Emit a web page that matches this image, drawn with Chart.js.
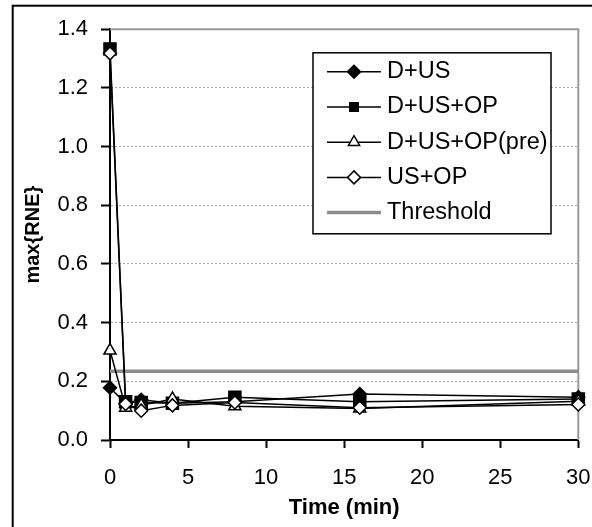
<!DOCTYPE html>
<html>
<head>
<meta charset="utf-8">
<style>
html,body{margin:0;padding:0;background:#fff;}
canvas{display:block;}
</style>
<script src="https://cdn.jsdelivr.net/npm/chart.js@4.4.1/dist/chart.umd.min.js"></script>
</head>
<body>
<canvas id="c" width="592" height="527"></canvas>
<script>
// ---- data ----
const times = [0, 1, 2, 4, 8, 16, 30];
const seriesNames = ['D+US', 'D+US+OP', 'D+US+OP(pre)', 'US+OP'];
const dUS      = [0.178, 0.125, 0.137, 0.125, 0.130, 0.157, 0.146];
const dUSOP    = [1.333, 0.130, 0.128, 0.125, 0.146, 0.130, 0.140];
const dUSOPpre = [0.305, 0.110, 0.118, 0.140, 0.115, 0.107, 0.132];
const usOP     = [1.318, 0.123, 0.100, 0.118, 0.128, 0.110, 0.121];
const thresholdLabel = 'Threshold';
const thresholdValue = 0.234;
const xTickValues = [0, 5, 10, 15, 20, 25, 30];
const yTickValues = [0.0, 0.2, 0.4, 0.6, 0.8, 1.0, 1.2, 1.4];
const xTitle = 'Time (min)';
const yTitle = 'max{RNE}';

// ---- styling ----
const FONT = '"Liberation Sans", Arial, Helvetica, sans-serif';
Chart.defaults.font.family = FONT;
Chart.defaults.color = '#000';

const toXY = arr => arr.map((v, i) => ({x: times[i], y: v}));

const styles = [
  {pointStyle: 'rectRot',  radius: 6.5, fill: '#000', order: 3, legendRadius: 6.5},
  {pointStyle: 'rect',     radius: 8.5, fill: '#000', order: 2, legendRadius: 6},
  {pointStyle: 'triangle', radius: 7,   fill: '#fff', order: 1, legendRadius: 6.5},
  {pointStyle: 'rectRot',  radius: 6.5, fill: '#fff', order: 0, legendRadius: 6.5}
];
const seriesData = [dUS, dUSOP, dUSOPpre, usOP];

const datasets = seriesData.map((arr, i) => ({
  label: seriesNames[i],
  data: toXY(arr),
  borderColor: '#000',
  borderWidth: 1.5,
  backgroundColor: styles[i].fill,
  pointStyle: styles[i].pointStyle,
  pointRadius: styles[i].radius,
  pointBackgroundColor: styles[i].fill,
  pointBorderColor: '#000',
  pointBorderWidth: 1.5,
  tension: 0,
  clip: false,
  order: styles[i].order
}));
datasets.push({
  label: thresholdLabel,
  data: [{x: times[0], y: thresholdValue}, {x: times[times.length - 1], y: thresholdValue}],
  borderColor: '#8c8c8c',
  borderWidth: 3.5,
  pointRadius: 0,
  tension: 0,
  clip: false,
  order: 10
});

function marker(ctx, style, r, x, y, fill) {
  ctx.save();
  ctx.beginPath();
  if (style === 'rectRot') {
    ctx.moveTo(x, y - r); ctx.lineTo(x + r, y); ctx.lineTo(x, y + r); ctx.lineTo(x - r, y); ctx.closePath();
  } else if (style === 'rect') {
    const s = r * Math.SQRT1_2;
    ctx.rect(x - s, y - s, 2 * s, 2 * s);
  } else if (style === 'triangle') {
    ctx.moveTo(x, y - r);
    ctx.lineTo(x + r * Math.sin(Math.PI / 3), y + r * 0.5);
    ctx.lineTo(x - r * Math.sin(Math.PI / 3), y + r * 0.5);
    ctx.closePath();
  }
  ctx.fillStyle = fill; ctx.fill();
  ctx.lineWidth = 1.5; ctx.strokeStyle = '#000'; ctx.stroke();
  ctx.restore();
}

const decor = {
  id: 'decor',
  beforeDraw(chart) {
    const ctx = chart.ctx;
    ctx.save();
    ctx.fillStyle = '#fff';
    ctx.fillRect(0, 0, chart.width, chart.height);
    ctx.restore();
  },
  beforeDatasetsDraw(chart) {
    const {ctx, chartArea: a} = chart;
    ctx.save();
    ctx.strokeStyle = '#999';
    ctx.lineWidth = 2;
    ctx.beginPath();
    ctx.moveTo(a.left, a.top); ctx.lineTo(a.right, a.top); ctx.lineTo(a.right, a.bottom);
    ctx.stroke();
    ctx.restore();
  },
  afterDraw(chart) {
    const {ctx, chartArea: a} = chart;
    ctx.save();
    // outer frame
    ctx.strokeStyle = '#000';
    ctx.lineWidth = 2;
    ctx.strokeRect(12.7, 5.7, 800, 800);
    // legend
    const bx = a.left + 203, by = a.top + 23.5, bw = 238, bh = 181;
    ctx.fillStyle = '#fff';
    ctx.fillRect(bx, by, bw, bh);
    ctx.lineWidth = 1.5;
    ctx.strokeRect(bx, by, bw, bh);
    const ds = chart.data.datasets;
    ds.forEach((d, i) => {
      const y = by + 19 + i * 35.2;
      const x1 = bx + 14, x2 = bx + 68;
      ctx.beginPath();
      ctx.moveTo(x1, y); ctx.lineTo(x2, y);
      ctx.strokeStyle = d.borderColor;
      ctx.lineWidth = d.borderWidth;
      ctx.stroke();
      if (i < styles.length) marker(ctx, styles[i].pointStyle, styles[i].legendRadius, (x1 + x2) / 2, y, styles[i].fill);
      ctx.fillStyle = '#000';
      ctx.font = '23.5px ' + FONT;
      ctx.textBaseline = 'middle';
      ctx.textAlign = 'left';
      ctx.fillText(d.label, x2 + 6, y);
    });
    ctx.restore();
  }
};

new Chart(document.getElementById('c'), {
  type: 'line',
  data: {datasets},
  options: {
    responsive: false,
    animation: false,
    events: [],
    layout: {padding: {left: 0, right: 13.7, top: 29.3, bottom: 0}},
    plugins: {legend: {display: false}, tooltip: {enabled: false}},
    scales: {
      x: {
        type: 'linear', min: 0, max: 30,
        afterBuildTicks: s => { s.ticks = xTickValues.map(v => ({value: v})); },
        afterFit: s => { s.height = 87; s.paddingLeft = 0; s.paddingRight = 0; },
        ticks: {color: '#000', font: {size: 22}, padding: 17, maxRotation: 0, autoSkip: false},
        grid: {drawOnChartArea: false, tickColor: '#000', tickLength: 8, tickWidth: 2},
        border: {color: '#000', width: 2},
        title: {display: true, text: xTitle, color: '#000', font: {size: 22, weight: 'bold'}, padding: {top: 0, bottom: 6}}
      },
      y: {
        type: 'linear', min: 0, max: 1.4,
        afterBuildTicks: s => { s.ticks = yTickValues.map(v => ({value: v})); },
        afterFit: s => { s.width = 110; s.paddingTop = 0; s.paddingBottom = 0; },
        ticks: {color: '#000', font: {size: 22}, padding: 13, callback: v => Number(v).toFixed(1)},
        grid: {
          color: c => (c.tick && (Math.abs(c.tick.value) < 1e-9 || Math.abs(c.tick.value - 1.4) < 1e-9)) ? 'rgba(0,0,0,0)' : '#a6a6a6',
          lineWidth: 1, tickColor: '#000', tickLength: 9, tickWidth: 2
        },
        border: {color: '#000', width: 2, dash: [2, 2]},
        title: {display: true, text: yTitle, color: '#000', font: {size: 20, weight: 'bold'}, padding: {top: 21, bottom: 0}}
      }
    }
  },
  plugins: [decor]
});
</script>
</body>
</html>
